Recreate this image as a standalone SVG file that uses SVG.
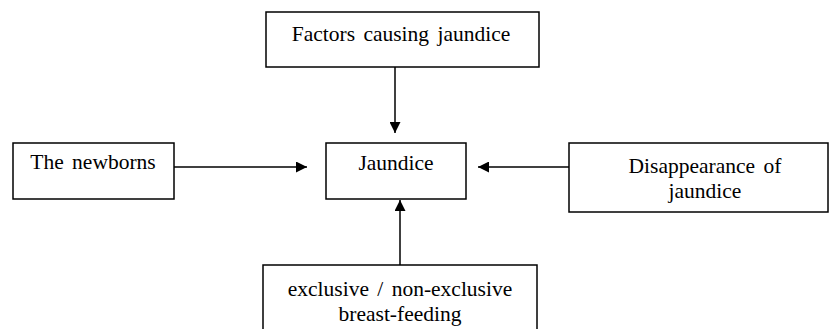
<svg xmlns="http://www.w3.org/2000/svg" width="830" height="329" viewBox="0 0 830 329">
<style>
.box{fill:#fff;stroke:#000;stroke-width:1.5}
.t{font-family:"Liberation Serif","Times New Roman",serif;font-size:21.5px;fill:#000;text-anchor:middle;word-spacing:3px}
.c{stroke:#000;stroke-width:1.5;fill:none;marker-end:url(#ah)}
</style>
<defs>
<marker id="ah" viewBox="0 0 10 10" refX="10" refY="5" markerWidth="11" markerHeight="11" markerUnits="userSpaceOnUse" orient="auto">
<path d="M0,0 L10,5 L0,10 Z" fill="#000"/>
</marker>
</defs>
<rect width="830" height="329" fill="#fff"/>
<g id="connectors">
<line class="c" x1="395" y1="67" x2="395" y2="133"/>
<line class="c" x1="174" y1="167" x2="307" y2="167"/>
<line class="c" x1="569" y1="167" x2="478" y2="167"/>
<line class="c" x1="400" y1="265" x2="400" y2="200"/>
</g>
<g id="factors">
<rect class="box" x="266" y="12" width="273" height="55"/>
<text class="t" x="401" y="41">Factors causing jaundice</text>
</g>
<g id="newborns">
<rect class="box" x="13" y="143" width="161" height="56"/>
<text class="t" x="93" y="169">The newborns</text>
</g>
<g id="jaundice">
<rect class="box" x="326" y="143" width="140" height="56"/>
<text class="t" x="396" y="170">Jaundice</text>
</g>
<g id="disappearance">
<rect class="box" x="569" y="143" width="259" height="69"/>
<text class="t" x="705" y="173">Disappearance of</text>
<text class="t" x="705" y="198">jaundice</text>
</g>
<g id="feeding">
<rect class="box" x="263" y="265" width="274" height="80"/>
<text class="t" x="400" y="296">exclusive / non-exclusive</text>
<text class="t" x="400" y="321">breast-feeding</text>
</g>
</svg>
